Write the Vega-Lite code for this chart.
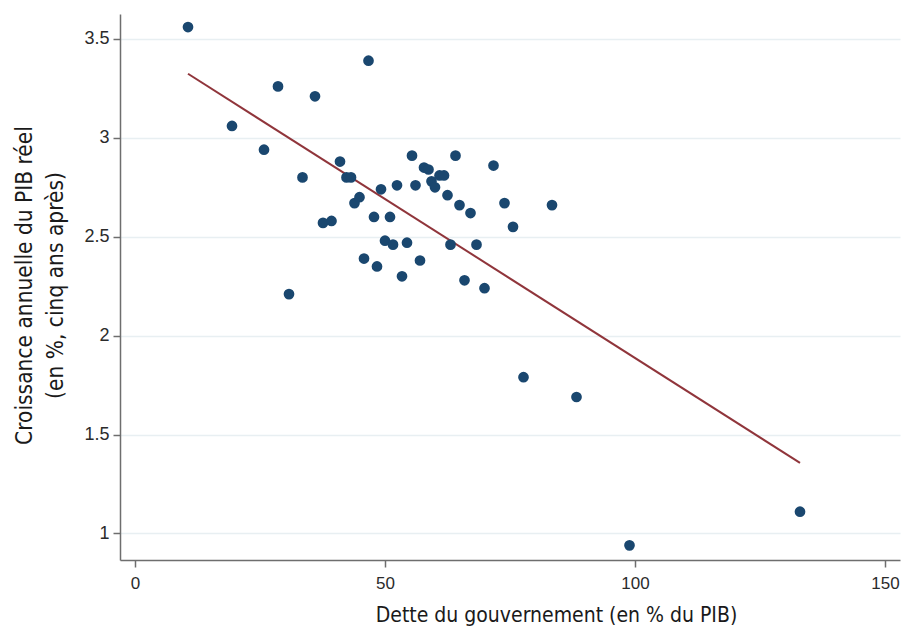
{
  "$schema": "https://vega.github.io/schema/vega-lite/v6.json",
  "width": 780,
  "height": 546,
  "autosize": "none",
  "padding": {"left": 120, "top": 14, "right": 3, "bottom": 67},
  "background": "white",
  "config": {
    "view": {"stroke": null},
    "axis": {
      "domainColor": "#6e6e6e",
      "domainWidth": 1.5,
      "tickColor": "#6e6e6e",
      "tickWidth": 1.5,
      "tickSize": 7,
      "labelFont": "Liberation Sans",
      "labelFontSize": 17,
      "labelColor": "#2b2b2b",
      "titleFont": "DejaVu Sans Condensed",
      "titleFontWeight": "normal",
      "titleColor": "#1a1a1a",
      "titleFontSize": 21
    }
  },
  "datasets": {
    "pays": [
      {"dette": 10.6, "croissance": 3.56},
      {"dette": 19.4, "croissance": 3.06},
      {"dette": 28.6, "croissance": 3.26},
      {"dette": 25.8, "croissance": 2.94},
      {"dette": 36.0, "croissance": 3.21},
      {"dette": 46.7, "croissance": 3.39},
      {"dette": 30.8, "croissance": 2.21},
      {"dette": 33.5, "croissance": 2.80},
      {"dette": 37.6, "croissance": 2.57},
      {"dette": 39.3, "croissance": 2.58},
      {"dette": 41.0, "croissance": 2.88},
      {"dette": 42.3, "croissance": 2.80},
      {"dette": 43.2, "croissance": 2.80},
      {"dette": 43.9, "croissance": 2.67},
      {"dette": 44.9, "croissance": 2.70},
      {"dette": 45.8, "croissance": 2.39},
      {"dette": 47.8, "croissance": 2.60},
      {"dette": 48.4, "croissance": 2.35},
      {"dette": 49.2, "croissance": 2.74},
      {"dette": 50.0, "croissance": 2.48},
      {"dette": 51.0, "croissance": 2.60},
      {"dette": 51.6, "croissance": 2.46},
      {"dette": 52.4, "croissance": 2.76},
      {"dette": 53.4, "croissance": 2.30},
      {"dette": 54.4, "croissance": 2.47},
      {"dette": 55.4, "croissance": 2.91},
      {"dette": 56.1, "croissance": 2.76},
      {"dette": 57.0, "croissance": 2.38},
      {"dette": 57.8, "croissance": 2.85},
      {"dette": 58.7, "croissance": 2.84},
      {"dette": 59.3, "croissance": 2.78},
      {"dette": 60.0, "croissance": 2.75},
      {"dette": 60.9, "croissance": 2.81},
      {"dette": 61.8, "croissance": 2.81},
      {"dette": 62.5, "croissance": 2.71},
      {"dette": 63.1, "croissance": 2.46},
      {"dette": 64.1, "croissance": 2.91},
      {"dette": 64.9, "croissance": 2.66},
      {"dette": 65.9, "croissance": 2.28},
      {"dette": 67.1, "croissance": 2.62},
      {"dette": 68.3, "croissance": 2.46},
      {"dette": 69.9, "croissance": 2.24},
      {"dette": 71.7, "croissance": 2.86},
      {"dette": 73.9, "croissance": 2.67},
      {"dette": 75.6, "croissance": 2.55},
      {"dette": 77.7, "croissance": 1.79},
      {"dette": 83.4, "croissance": 2.66},
      {"dette": 88.3, "croissance": 1.69},
      {"dette": 98.9, "croissance": 0.94},
      {"dette": 133.0, "croissance": 1.11}
    ],
    "ajustement": [
      {"dette": 10.6, "croissance": 3.324},
      {"dette": 133.0, "croissance": 1.357}
    ]
  },
  "layer": [
    {
      "data": {"name": "ajustement"},
      "mark": {"type": "line", "color": "#90353b", "strokeWidth": 2},
      "encoding": {
        "x": {"field": "dette", "type": "quantitative"},
        "y": {"field": "croissance", "type": "quantitative"}
      }
    },
    {
      "data": {"name": "pays"},
      "mark": {"type": "point", "filled": true, "opacity": 1, "color": "#1a476f", "size": 115},
      "encoding": {
        "x": {
          "field": "dette",
          "type": "quantitative",
          "scale": {"domain": [-3, 153], "nice": false, "zero": false},
          "axis": {
            "values": [0, 50, 100, 150],
            "grid": false,
            "labelPadding": 8,
            "title": "Dette du gouvernement (en % du PIB)",
            "titleX": 436,
            "titleY": 61,
            "titleAlign": "center",
            "titleBaseline": "alphabetic"
          }
        },
        "y": {
          "field": "croissance",
          "type": "quantitative",
          "scale": {"domain": [0.866, 3.626], "nice": false, "zero": false},
          "axis": {
            "values": [1, 1.5, 2, 2.5, 3, 3.5],
            "format": "~g",
            "grid": true,
            "gridColor": "#e8eff2",
            "gridWidth": 1.5,
            "labelPadding": 4,
            "labelFontSize": 18,
            "title": ["Croissance annuelle du PIB réel", "(en %, cinq ans après)"],
            "titleFontSize": 22.5,
            "titleAngle": -90,
            "titleX": -89,
            "titleY": 271,
            "titleAlign": "center",
            "titleBaseline": "alphabetic",
            "titleLineHeight": 31
          }
        }
      }
    }
  ]
}
